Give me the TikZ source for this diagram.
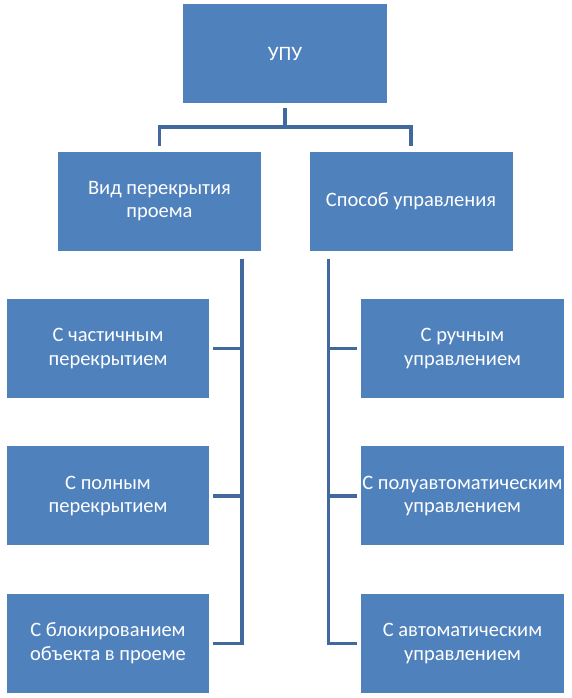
\documentclass[tikz,border=0pt]{standalone}
\usepackage{fontspec}
\setmainfont{Carlito}
\usepackage{xcolor}
\definecolor{boxBlue}{HTML}{4F81BD}
\definecolor{lineBlue}{HTML}{41699E}
\usepackage{tikz}
\usetikzlibrary{positioning}
\tikzset{
    % Base style for all boxes
    box/.style={
        rectangle,
        fill=boxBlue,
        text=white,
        align=center,
        font=\fontsize{20.5}{23.5}\selectfont,
        minimum width=203pt,
        minimum height=99pt,
        inner xsep=0pt,
    },
    % Tree connector
    link/.style={
        draw=lineBlue,
        line width=3.6pt,
    },
}
\begin{document}
\begin{tikzpicture}[x=1pt, y=1pt, node distance=48pt]
    \useasboundingbox (0,0) rectangle (572,-698);

    \node (upu) [box, minimum width=204pt] at (285,-53.5) {УПУ};
    \node (vid) [box] at (159.5,-201) {Вид перекрытия\\проема};
    \node (sposob) [box] at (411,-201) {Способ управления};

    \node (chast) [box, minimum width=202pt] at (108,-348.5) {С частичным\\перекрытием};
    \node (poln) [box, minimum width=202pt, below=of chast] {С полным\\перекрытием};
    \node (blok) [box, minimum width=202pt, below=of poln] {С блокированием\\объекта в проеме};

    \node (ruch) [box] at (462.5,-348.5) {С ручным\\управлением};
    \node (poluavt) [box, below=of ruch] {С полуавтоматическим\\управлением};
    \node (avt) [box, below=of poluavt] {С автоматическим\\управлением};

    % upper level
    \coordinate (fork) at ([yshift=-24pt]upu.south);
    \draw [link, shorten <=5pt] (upu.south) -- (fork);
    \draw [link, shorten >=5pt] (fork) -| (vid.north);
    \draw [link, shorten >=5pt] (fork) -| (sposob.north);

    % left trunk
    \coordinate (ltrunk) at ([xshift=-19pt, yshift=-8pt]vid.south east);
    \draw [link, shorten >=4pt] (ltrunk) |- (chast.east);
    \draw [link, shorten >=4pt] (ltrunk) |- (poln.east);
    \draw [link, shorten >=4pt] (ltrunk) |- (blok.east);

    % right trunk
    \coordinate (rtrunk) at ([xshift=19pt, yshift=-8pt]sposob.south west);
    \draw [link, shorten >=4pt] (rtrunk) |- (ruch.west);
    \draw [link, shorten >=4pt] (rtrunk) |- (poluavt.west);
    \draw [link, shorten >=4pt] (rtrunk) |- (avt.west);
\end{tikzpicture}
\end{document}
